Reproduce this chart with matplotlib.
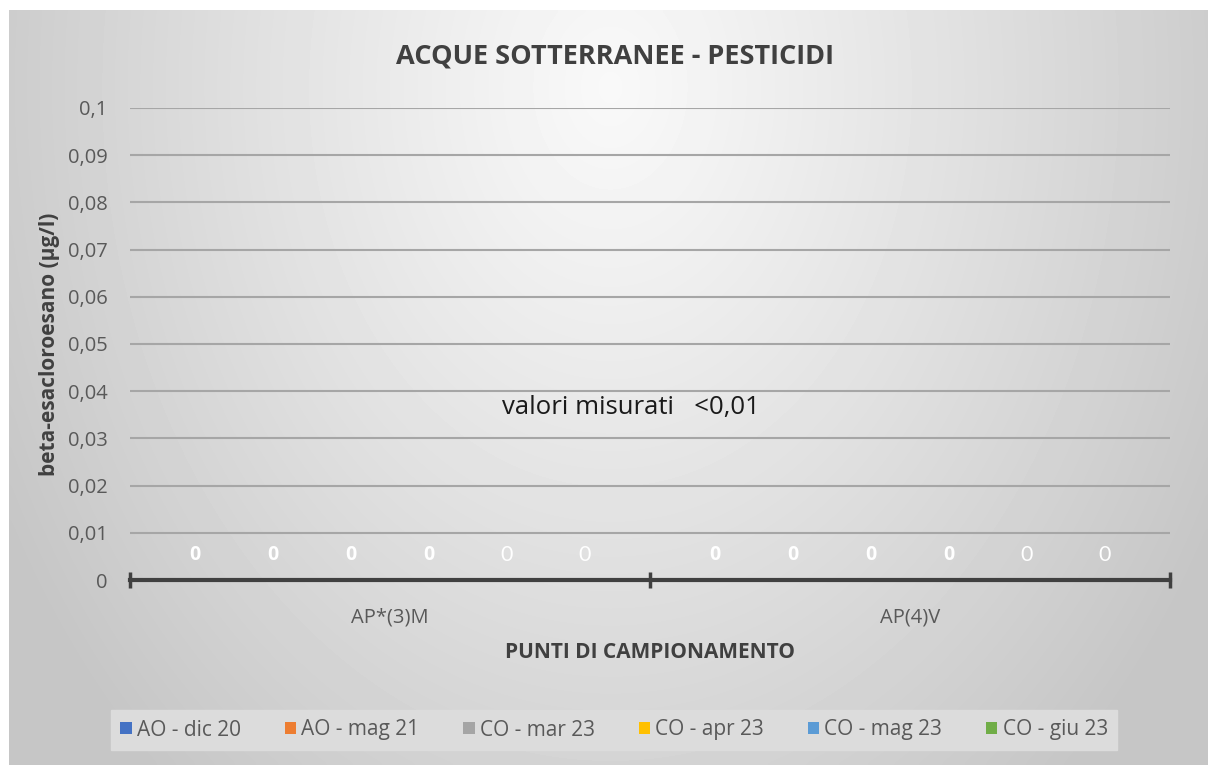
"""Acque sotterranee - pesticidi: beta-esacloroesano per punto di campionamento."""

import matplotlib
matplotlib.use('Agg')
import matplotlib.pyplot as plt
import numpy as np

plt.rcParams['font.family'] = ['Open Sans', 'DejaVu Sans']

# data
POINTS = ['AP*(3)M', 'AP(4)V']
CAMPAIGNS = ['AO - dic 20', 'AO - mag 21', 'CO - mar 23',
             'CO - apr 23', 'CO - mag 23', 'CO - giu 23']
VALUES = {
    'AO - dic 20': [0, 0],
    'AO - mag 21': [0, 0],
    'CO - mar 23': [0, 0],
    'CO - apr 23': [0, 0],
    'CO - mag 23': [0, 0],
    'CO - giu 23': [0, 0],
}
COLORS = ['#4472C4', '#ED7D31', '#A5A5A5', '#FFC000', '#5B9BD5', '#70AD47']
Y_TICKS = [0, 0.01, 0.02, 0.03, 0.04, 0.05, 0.06, 0.07, 0.08, 0.09, 0.1]
Y_TICK_LABELS = ['0', '0,01', '0,02', '0,03', '0,04', '0,05', '0,06',
                 '0,07', '0,08', '0,09', '0,1']

W, H = 1208, 765
fig = plt.figure(figsize=(W / 100, H / 100), dpi=100, facecolor='white')

# radial gradient background of the chart area
bg = fig.add_axes([9 / W, 0, 1 - 9 / W, 1 - 10 / H])
yy, xx = np.mgrid[0:200, 0:300]
r = np.hypot((xx - 150) / 150.0, (yy - 20) / 200.0 * 0.95)
r = np.clip(r / 1.15, 0, 1)
shade = 0.975 - 0.2 * r ** 1.1
bg.imshow(shade, cmap='gray', vmin=0, vmax=1, aspect='auto',
          extent=[0, 1, 0, 1], origin='upper', interpolation='bicubic')
bg.axis('off')

# main axes
ax = fig.add_axes([130 / W, 1 - 580 / H, 1040 / W, 472 / H])
ax.patch.set_alpha(0)

x = np.arange(len(POINTS))
width = 0.15
for i, (name, color) in enumerate(zip(CAMPAIGNS, COLORS)):
    offs = (i - 2.5) * width
    bars = ax.bar(x + offs, VALUES[name], width, color=color, label=name)
    if i < 4:
        ax.bar_label(bars, padding=11, color='white', fontsize=14,
                     fontweight='bold')
    else:
        ax.bar_label(bars, padding=11, color='white', fontsize=15.5,
                     family=['Lato'])

ax.set_xlim(-0.5, 1.5)
ax.set_ylim(0, 0.1)
ax.set_yticks(Y_TICKS)
ax.set_yticklabels(Y_TICK_LABELS, fontsize=14.5, color='#595959')
ax.yaxis.grid(True, color='#a6a6a6', linewidth=1.5)
ax.set_axisbelow(True)
ax.tick_params(axis='y', length=0, pad=16)

ax.set_xticks([-0.5, 0.5, 1.5], minor=True)
ax.set_xticks(x)
ax.set_xticklabels(POINTS, fontsize=14.5, color='#595959')
ax.tick_params(axis='x', which='major', length=0, pad=20)
ax.tick_params(axis='x', which='minor', direction='inout', length=12,
               width=2.5, color='#404040')

for side in ['top', 'right', 'left']:
    ax.spines[side].set_visible(False)
ax.spines['bottom'].set_color('#404040')
ax.spines['bottom'].set_linewidth(3)
ax.spines['bottom'].set_zorder(5)

ax.set_ylabel('beta-esacloroesano (µg/l)', fontsize=15, fontweight='bold',
              color='#404040', labelpad=6)
ax.set_xlabel('PUNTI DI CAMPIONAMENTO', fontsize=15, fontweight='bold',
              color='#404040', labelpad=10)

ax.text(0.4625, 0.0365, 'valori misurati   <0,01', fontsize=18.5,
        color='#1a1a1a', ha='center', va='center')

fig.text(615 / W, 1 - 57 / H, 'ACQUE SOTTERRANEE - PESTICIDI', fontsize=19.5,
         fontweight='bold', color='#404040', ha='center', va='center')

leg = fig.legend(loc='center', bbox_to_anchor=(614 / W, 1 - 730 / H),
                 ncol=6, frameon=True, fontsize=15, handlelength=0.55,
                 handleheight=0.55, handletextpad=0.25, columnspacing=2.1,
                 borderpad=0.45)
leg.get_frame().set_facecolor('#dcdcdc')
leg.get_frame().set_edgecolor('#dcdcdc')
leg.get_frame().set_alpha(1)
leg.get_frame().set_boxstyle('square', pad=0)
for t in leg.get_texts():
    t.set_color('#595959')

fig.savefig('out.png', dpi=100, facecolor='white')
